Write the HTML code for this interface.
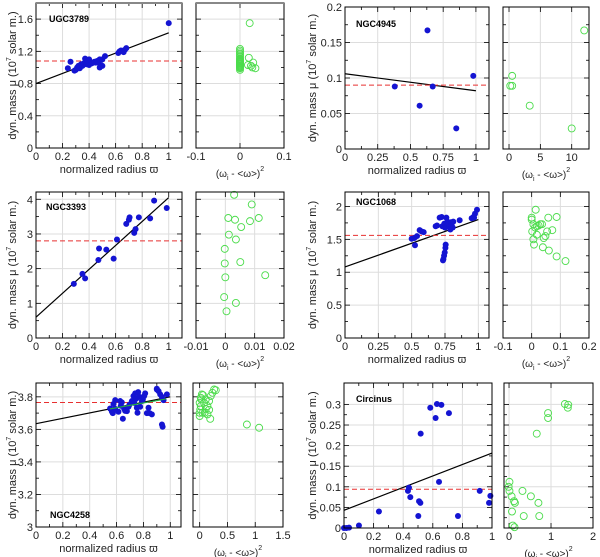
<!DOCTYPE html>
<html><head><meta charset="utf-8"><style>
body{margin:0;background:#fff;}
svg{display:block;font-family:"Liberation Sans",sans-serif;}
</style></head><body>
<svg id="c" width="600" height="557" viewBox="0 0 600 557"></svg>
<script>
// ---- data ----
const p1X=[0.24,0.26,0.29,0.30,0.31,0.32,0.33,0.34,0.35,0.36,0.37,0.38,0.39,0.40,0.40,0.42,0.43,0.44,0.45,0.46,0.47,0.48,0.48,0.49,0.50,0.50,0.52,0.62,0.63,0.64,0.66,0.67,0.68,1.0];
const p1Y=[0.99,1.07,0.96,0.97,1.00,1.02,0.99,1.04,1.02,1.05,1.11,1.04,1.08,1.03,1.10,1.05,1.06,1.07,1.06,1.08,1.06,1.10,1.00,1.03,1.02,1.10,1.14,1.18,1.20,1.21,1.19,1.22,1.24,1.55];
const p1RX=[0,0,0,0,0,0,0,0,0,0,0,0,0,0,0,0,0,0,0,0,0.02,0.025,0.03,0.035,0.028,0.018,0.022];
const p1RY=[0.97,1.00,1.03,1.05,1.07,1.09,1.11,1.13,1.15,1.17,1.19,1.21,1.23,1.02,0.99,1.04,1.06,1.08,1.10,1.01,1.12,1.02,1.06,0.99,1.00,1.03,1.55];
const p1Fit=[0.80,1.43]; const p1Mean=1.08;

const p2X=[0.38,0.57,0.63,0.67,0.85,0.98];
const p2Y=[0.088,0.061,0.167,0.088,0.029,0.103];
const p2RX=[0.2,0.5,0.5,3.3,10,12];
const p2RY=[0.089,0.089,0.103,0.061,0.029,0.167];
const p2Fit=[0.106,0.082]; const p2Mean=0.090;

const p3X=[0.285,0.35,0.37,0.475,0.47,0.53,0.585,0.61,0.68,0.70,0.705,0.74,0.75,0.775,0.86,0.89,0.985];
const p3Y=[1.56,1.85,1.72,2.58,2.25,2.55,2.29,2.84,3.29,3.41,3.48,3.03,3.14,3.48,3.45,3.96,3.75];
const p3RX=[0.003,0.009,0.001,0.0033,0.0114,0.0084,0.0054,0.0012,0.0036,-0.0002,-0.0002,0.0051,0,0.0136,-0.0004,0.0036,0.0004];
const p3RY=[4.13,3.85,3.46,3.41,3.46,3.37,3.20,2.98,2.84,2.57,2.15,2.19,1.75,1.81,1.18,1.01,0.77];
const p3Fit=[0.6,4.05]; const p3Mean=2.8;

const p4X=[0.50,0.52,0.525,0.54,0.56,0.575,0.59,0.68,0.69,0.71,0.725,0.73,0.745,0.75,0.76,0.763,0.768,0.775,0.783,0.79,0.795,0.80,0.808,0.812,0.755,0.753,0.748,0.743,0.738,0.735,0.86,0.95,0.963,0.975,0.99,0.968];
const p4Y=[1.51,1.52,1.41,1.55,1.64,1.62,1.61,1.70,1.71,1.83,1.84,1.70,1.74,1.68,1.83,1.70,1.77,1.73,1.70,1.65,1.76,1.71,1.68,1.77,1.42,1.37,1.30,1.25,1.20,1.18,1.79,1.82,1.84,1.89,1.95,1.83];
const p4RX=[0,0.014,0.006,0.012,0.018,0.024,0.030,0.036,0.002,0.042,0.048,0.006,0.008,0.058,0.087,0.072,0.054,0.039,0.060,0.087,0.118,0.018,0];
const p4RY=[1.83,1.95,1.73,1.68,1.70,1.71,1.73,1.73,1.62,1.52,1.55,1.50,1.42,1.83,1.84,1.64,1.62,1.38,1.33,1.24,1.17,1.57,1.80];
const p4Fit=[1.08,1.80]; const p4Mean=1.56;

const p5X=[0.552,0.565,0.577,0.590,0.572,0.614,0.632,0.639,0.647,0.657,0.664,0.677,0.689,0.697,0.714,0.726,0.731,0.739,0.746,0.751,0.756,0.761,0.771,0.776,0.789,0.796,0.806,0.813,0.826,0.838,0.846,0.900,0.913,0.925,0.938,0.950,0.863,0.938,0.943,0.975,0.590,0.627,0.900];
const p5Y=[3.728,3.710,3.756,3.780,3.700,3.708,3.745,3.766,3.665,3.726,3.714,3.712,3.739,3.753,3.774,3.805,3.763,3.821,3.788,3.733,3.702,3.829,3.800,3.739,3.774,3.784,3.805,3.821,3.700,3.733,3.700,3.845,3.835,3.815,3.800,3.780,3.692,3.630,3.616,3.815,3.726,3.774,3.850];
const p5RX=[0,0.02,0.01,0.03,0.04,0.05,0,0.02,0.08,0.11,0.14,0.17,0.20,0.23,0.26,0.29,0.17,0.14,0.19,0.09,0.06,0.85,1.07,0.11,0];
const p5RY=[3.763,3.743,3.722,3.784,3.815,3.702,3.682,3.794,3.763,3.726,3.743,3.774,3.805,3.825,3.845,3.841,3.720,3.692,3.665,3.702,3.810,3.630,3.610,3.784,3.702];
const p5Fit=[3.635,3.80]; const p5Mean=3.765;

const p6X=[0,0.016,0.034,0.101,0.236,0.432,0.439,0.448,0.502,0.507,0.516,0.518,0.583,0.619,0.628,0.642,0.658,0.709,0.770,0.917,0.980,0.989];
const p6Y=[0,0,0.001,0.006,0.040,0.090,0.098,0.075,0.029,0.065,0.061,0.229,0.292,0.267,0.301,0.112,0.299,0.279,0.029,0.090,0.061,0.078];
const p6RX=[0.01,-0.01,0.01,0.06,0.12,0.14,0.07,0.09,0.13,0.32,0.52,0.35,0.70,0.72,0.66,0.93,0.93,1.33,1.41,1.40];
const p6RY=[0.112,0.100,0.090,0.077,0.065,0.061,0.040,0.006,0.002,0.090,0.077,0.029,0.061,0.029,0.229,0.279,0.267,0.301,0.299,0.292];
const p6Fit=[0.043,0.182]; const p6Mean=0.094;

// ---- layout ----
const NS="http://www.w3.org/2000/svg";
const svg=document.getElementById('c');
function mk(tag,attrs,parent,text){const e=document.createElementNS(NS,tag);for(const k in attrs)e.setAttribute(k,attrs[k]);if(text!==undefined)e.textContent=text;(parent||svg).appendChild(e);return e;}
function fmt(v){return String(+v.toFixed(3));}

const panels=[
 {name:'UGC3789',nx:49,ny:22,m:[36,182,3,148],xd:[0,1.1],yd:[0,1.8],xt:[0,0.2,0.4,0.6,0.8,1],yt:[0,0.4,0.8,1.2,1.6],r:[196,284],rd:[-0.1,0.1],rt:[-0.1,0,0.1],X:p1X,Y:p1Y,RX:p1RX,RY:p1RY,fit:p1Fit,mean:p1Mean,lab:12,tx:24},
 {name:'NGC4945',nx:356,ny:27,m:[345,489,7,149],xd:[0,1.1],yd:[0,0.2],xt:[0,0.25,0.5,0.75,1],yt:[0,0.05,0.1,0.15,0.2],r:[503,589],rd:[-0.96,12.76],rt:[0,5,10],X:p2X,Y:p2Y,RX:p2RX,RY:p2RY,fit:p2Fit,mean:p2Mean,lab:312},
 {name:'NGC3393',nx:46,ny:210,m:[36,182,192,338],xd:[0,1.1],yd:[0,4.21],xt:[0,0.2,0.4,0.6,0.8,1],yt:[0,1,2,3,4],r:[196,284],rd:[-0.01,0.02],rt:[-0.01,0,0.01,0.02],X:p3X,Y:p3Y,RX:p3RX,RY:p3RY,fit:p3Fit,mean:p3Mean,lab:12,sup:1},
 {name:'NGC1068',nx:356,ny:205,m:[345,489,192,338],xd:[0,1.08],yd:[0,2.22],xt:[0,0.25,0.5,0.75,1],yt:[0,0.5,1,1.5,2],r:[503,589],rd:[-0.1,0.2],rt:[-0.1,0,0.1,0.2],X:p4X,Y:p4Y,RX:p4RX,RY:p4RY,fit:p4Fit,mean:p4Mean,lab:312},
 {name:'NGC4258',nx:50,ny:518,m:[36,181,383,527],xd:[0,1.08],yd:[3,3.885],xt:[0,0.2,0.4,0.6,0.8,1],yt:[3,3.2,3.4,3.6,3.8],r:[193,283],rd:[-0.12,1.5],rt:[0,0.5,1,1.5],X:p5X,Y:p5Y,RX:p5RX,RY:p5RY,fit:p5Fit,mean:p5Mean,lab:12,green:1},
 {name:'Circinus',nx:356,ny:402,m:[344,492,383,528],xd:[0,1],yd:[0,0.352],xt:[0,0.2,0.4,0.6,0.8,1],yt:[0,0.05,0.1,0.15,0.2,0.25,0.3],r:[504,593],rd:[-0.12,2],rt:[0,1,2],X:p6X,Y:p6Y,RX:p6RX,RY:p6RY,fit:p6Fit,mean:p6Mean,lab:312}
];

panels.forEach((p,pi)=>{
 const [x0,x1,y0,y1]=p.m;
 const sx=v=>x0+(v-p.xd[0])/(p.xd[1]-p.xd[0])*(x1-x0);
 const sy=v=>y1-(v-p.yd[0])/(p.yd[1]-p.yd[0])*(y1-y0);
 const rx=v=>p.r[0]+(v-p.rd[0])/(p.rd[1]-p.rd[0])*(p.r[1]-p.r[0]);
 const g=mk('g',{});
 
 
 // grids
 p.xt.forEach(t=>{const l=mk('line',{x1:sx(t),x2:sx(t),y1:y0,y2:y1,stroke:'#ddd','stroke-width':1},g);});
 p.yt.forEach(t=>{[[x0,x1],[p.r[0],p.r[1]]].forEach(([a,b])=>{const l=mk('line',{x1:a,x2:b,y1:sy(t),y2:sy(t),stroke:'#ddd','stroke-width':1},g);});});
 p.rt.forEach(t=>{const l=mk('line',{x1:rx(t),x2:rx(t),y1:y0,y2:y1,stroke:'#ddd','stroke-width':1},g);});
 // ticks
 const tk=(xa,ya,xb,yb)=>{const l=mk('line',{x1:xa,y1:ya,x2:xb,y2:yb,stroke:'#000','stroke-width':0.8},g);};
 p.xt.forEach((t,i)=>{tk(sx(t),y1,sx(t),y1-5);tk(sx(t),y0,sx(t),y0+5);
   if(i<p.xt.length-1){const m=(t+p.xt[i+1])/2;tk(sx(m),y1,sx(m),y1-3);tk(sx(m),y0,sx(m),y0+3);}
   const lb=mk('text',{x:sx(t),y:y1+12,'font-size':11,'text-anchor':'middle',fill:'#222'},g,fmt(t));});
 p.yt.forEach((t,i)=>{tk(x0,sy(t),x0+5,sy(t));tk(x1,sy(t),x1-5,sy(t));tk(p.r[0],sy(t),p.r[0]+5,sy(t));tk(p.r[1],sy(t),p.r[1]-5,sy(t));
   if(i<p.yt.length-1){const m=(t+p.yt[i+1])/2;tk(x0,sy(m),x0+3,sy(m));tk(x1,sy(m),x1-3,sy(m));tk(p.r[0],sy(m),p.r[0]+3,sy(m));tk(p.r[1],sy(m),p.r[1]-3,sy(m));}
   const lb=mk('text',{x:x0-3,y:sy(t)+4,'font-size':11,'text-anchor':'end',fill:'#222'},g,fmt(t));});
 p.rt.forEach(t=>{tk(rx(t),y1,rx(t),y1-5);tk(rx(t),y0,rx(t),y0+5);
   const lb=mk('text',{x:rx(t),y:y1+12,'font-size':11,'text-anchor':'middle',fill:'#222'},g,fmt(t));});
 // fit + mean
 const xe=Math.min(1,p.xd[1]);
 const fl=mk('line',{x1:sx(0),y1:sy(p.fit[0]),x2:sx(xe),y2:sy(p.fit[0]+(p.fit[1]-p.fit[0])*xe),stroke:'#000','stroke-width':1.2},g);
 
 const ml=mk('line',{x1:x0,x2:x1,y1:sy(p.mean),y2:sy(p.mean),stroke:'#e83030','stroke-width':1,'stroke-dasharray':'5,3'},g);
 
 // points
 p.X.forEach((v,i)=>{const c=mk('circle',{cx:sx(v),cy:sy(p.Y[i]),r:3,fill:'#1414d2'},g);});
 if(p.green){const gl=mk('line',{x1:sx(0.55),y1:sy(p.fit[0]+(p.fit[1]-p.fit[0])*0.55),x2:sx(0.97),y2:sy(p.fit[0]+(p.fit[1]-p.fit[0])*0.97-0.008),stroke:'#22aa44','stroke-width':1.2},g);}
 p.RX.forEach((v,i)=>{const c=mk('circle',{cx:rx(v),cy:sy(p.RY[i]),r:3.5,fill:'none',stroke:'#4cdc4c','stroke-width':0.9},g);});
 // frames
 const f1=mk('rect',{x:x0,y:y0,width:x1-x0,height:y1-y0,fill:'none',stroke:'#000','stroke-width':1},g);
 const f2=mk('rect',{x:p.r[0],y:y0,width:p.r[1]-p.r[0],height:y1-y0,fill:'none',stroke:'#000','stroke-width':1},g);
 if(pi===0){mk('line',{x1:x0,x2:x1,y1:y0,y2:y0,stroke:'#888','stroke-width':2},g);mk('line',{x1:p.r[0],x2:p.r[1],y1:y0,y2:y0,stroke:'#888','stroke-width':2},g);}
 // labels
 const nm=mk('text',{x:p.nx,y:p.ny,'font-size':9,'font-weight':'bold',fill:'#000'},g,p.name);
 const xl=mk('text',{x:(x0+x1)/2,y:y1+25,'font-size':11,'text-anchor':'middle',fill:'#222'},g,'normalized radius ϖ');
 const rl=mk('text',{x:(p.r[0]+p.r[1])/2,y:y1+29,'font-size':10,'text-anchor':'middle',fill:'#222'},g);
 
 mk('tspan',{},rl,'(ω');mk('tspan',{'font-size':7,dy:3},rl,'i');mk('tspan',{dy:-3},rl,' - <ω>)');mk('tspan',{'font-size':7,dy:-6},rl,'2');
 const cy=(y0+y1)/2;
 const yl=mk('text',{x:p.lab,y:cy,'font-size':11,'text-anchor':'middle',fill:'#222',transform:`rotate(-90 ${p.lab} ${cy})`,dy:4},g);
 
 mk('tspan',{},yl,'dyn. mass μ (10');mk('tspan',{'font-size':7,dy:-5},yl,'7');mk('tspan',{dy:5},yl,' solar m.)');
});
</script>
</body></html>
